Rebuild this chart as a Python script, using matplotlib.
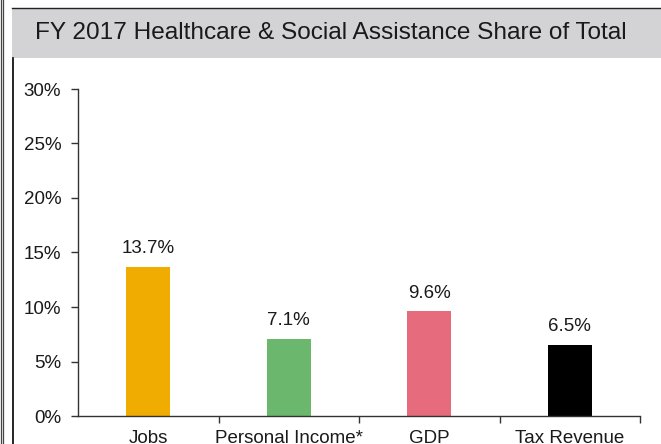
import numpy as np
import matplotlib.pyplot as plt
from matplotlib.lines import Line2D
from matplotlib.patches import Rectangle

plt.rcParams['font.family'] = ['Liberation Sans', 'DejaVu Sans']

categories = ["Jobs", "Personal Income*", "GDP", "Tax Revenue"]
shares = [13.7, 7.1, 9.6, 6.5]
bar_colors = ["#F0AC00", "#6BB76E", "#E56B7D", "#000000"]
yticks = [0, 5, 10, 15, 20, 25, 30]

W, H = 661, 444
fig = plt.figure(figsize=(W / 100, H / 100), dpi=100)

# title banner and frame lines (pixel coords -> figure coords)
fig.add_artist(Rectangle((12 / W, 1 - 58 / H), 1 - 12 / W, 49 / H,
                         transform=fig.transFigure, facecolor="#D3D3D6", edgecolor="none"))
fig.add_artist(Line2D([12 / W, 1], [1 - 8.5 / H] * 2, transform=fig.transFigure,
                      color="#222222", linewidth=1.0))
fig.add_artist(Line2D([12.5 / W] * 2, [0, 1 - 58 / H], transform=fig.transFigure,
                      color="black", linewidth=1.2))
for xp in [0.6, 2.6]:
    fig.add_artist(Line2D([xp / W] * 2, [0, 1], transform=fig.transFigure,
                          color="#444444", linewidth=0.9))
fig.text(331 / W, 1 - 33 / H, "FY 2017 Healthcare & Social Assistance Share of Total",
         ha="center", va="center", fontsize=17.6, color="#1a1a1a")

ax = fig.add_axes([78 / W, (H - 416) / H, (640 - 78) / W, (416 - 89) / H])
x = np.arange(len(categories))
bars = ax.bar(x, shares, width=0.315, color=bar_colors)

for xi, v in zip(x, shares):
    ax.annotate(f"{v:.1f}%", (xi, v), xytext=(0, 7), textcoords="offset points",
                ha="center", va="bottom", fontsize=13.5, color="#1a1a1a")

ax.set_xlim(-0.5, 3.5)
ax.set_ylim(0, 30)
ax.set_yticks(yticks)
ax.set_yticklabels([f"{t}%" for t in yticks], fontsize=13.5, color="#1a1a1a")
ax.set_xticks(x)
ax.set_xticklabels(categories, fontsize=13.5, color="#1a1a1a")
ax.set_xticks([0.5, 1.5, 2.5, 3.5], minor=True)
ax.tick_params(axis="x", which="major", length=0, pad=10)
ax.tick_params(axis="x", which="minor", length=5, width=1, color="#333333", direction="out")
ax.tick_params(axis="y", length=5, width=1, color="#333333", direction="out", pad=7)
for s in ["top", "right"]:
    ax.spines[s].set_visible(False)
for s in ["left", "bottom"]:
    ax.spines[s].set_color("#333333")
    ax.spines[s].set_linewidth(1.0)

plt.savefig("out.png", dpi=100)
